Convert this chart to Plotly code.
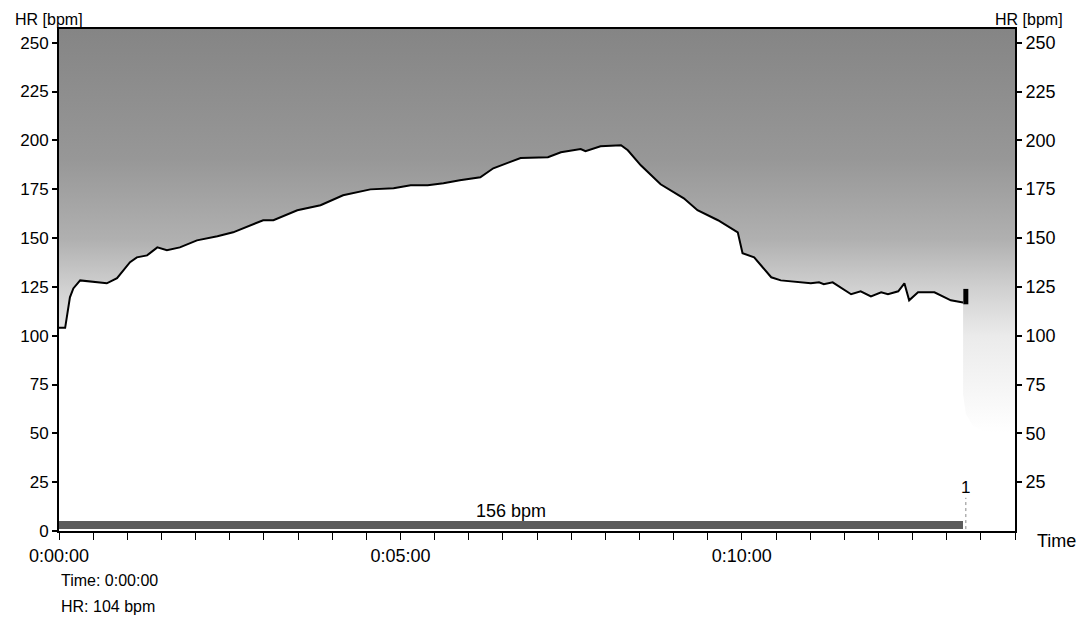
import plotly.graph_objects as go

# ---- data (time in minutes, heart rate in bpm) ----
time_min = [0.00, 0.09, 0.16, 0.21, 0.31, 0.60, 0.70, 0.85, 1.04, 1.14, 1.29, 1.44, 1.58, 1.77,
            2.02, 2.32, 2.55, 2.99, 3.14, 3.49, 3.83, 4.16, 4.56, 4.90, 5.15, 5.40, 5.63, 5.87,
            6.17, 6.36, 6.76, 7.16, 7.35, 7.64, 7.71, 7.93, 8.23, 8.33, 8.52, 8.81, 9.15, 9.35,
            9.65, 9.94, 10.01, 10.18, 10.43, 10.57, 11.01, 11.13, 11.20, 11.33, 11.60, 11.74,
            11.89, 12.04, 12.14, 12.29, 12.38, 12.45, 12.58, 12.82, 13.06, 13.24]
hr_bpm = [104, 104, 119.6, 124.2, 128.3, 127.3, 126.8, 129.4, 137.6, 140.1, 141.1, 145.2, 143.7, 145.2,
          148.8, 150.9, 152.9, 159.1, 159.1, 164.2, 166.8, 171.9, 174.9, 175.5, 177.0, 177.0, 178.0, 179.6,
          181.1, 185.7, 190.9, 191.4, 193.9, 195.5, 194.4, 197.0, 197.5, 194.9, 187.2, 177.5, 170.3, 164.2,
          159.1, 152.9, 142.2, 140.1, 129.9, 128.3, 126.8, 127.3, 126.3, 127.3, 121.2, 122.7,
          120.1, 122.2, 121.2, 122.7, 126.8, 118.1, 122.2, 122.2, 118.1, 117.0]

# recovery envelope after the end of the recording
tail_time = [13.24, 13.24, 13.28, 13.38, 13.55, 14.0]
tail_hr = [117.0, 70, 60, 54, 51, 50]

hr_axis_max = 257
time_axis_max = 14

zone_start = 0.0
zone_end = 13.24
zone_label = "156 bpm"

lap_time = 13.28
lap_hr = 120
lap_label = "1"

cursor_time = "0:00:00"
cursor_hr = 104

hr_ticks = list(range(0, 251, 25))
hr_ticks_right = list(range(25, 251, 25))
time_ticks = [i * 0.5 for i in range(0, 29)]
time_labels = {0: "0:00:00", 5: "0:05:00", 10: "0:10:00"}
time_ticktext = [time_labels.get(int(t), "") if float(t).is_integer() else "" for t in time_ticks]

FONT = "Liberation Sans, Arial, Helvetica, sans-serif"

lower_x = time_min + tail_time[1:]
lower_y = hr_bpm + tail_hr[1:]

fig = go.Figure()

# lower boundary of the shaded area
fig.add_trace(go.Scatter(x=lower_x, y=lower_y, mode="lines",
                         line=dict(width=0, color="rgba(0,0,0,0)"),
                         showlegend=False, hoverinfo="skip"))
# shaded area up to the top of the chart
fig.add_trace(go.Scatter(x=[0, time_axis_max], y=[hr_axis_max, hr_axis_max], mode="lines",
                         line=dict(width=0, color="rgba(0,0,0,0)"),
                         fill="tonexty",
                         fillgradient=dict(type="vertical",
                                           start=50, stop=hr_axis_max,
                                           colorscale=[[0.0, "#ffffff"],
                                                       [0.24, "#ebebeb"],
                                                       [0.36, "#d0d0d0"],
                                                       [0.48, "#b0b0b0"],
                                                       [0.68, "#979797"],
                                                       [1.0, "#858585"]]),
                         showlegend=False, hoverinfo="skip"))
# heart rate curve
fig.add_trace(go.Scatter(x=time_min, y=hr_bpm, mode="lines",
                         line=dict(color="black", width=2),
                         showlegend=False))
# zone bar
fig.add_trace(go.Bar(orientation="h", y=[2.9], x=[zone_end - zone_start], base=[zone_start],
                     width=[4.1], marker=dict(color="#5c5c5c", line=dict(width=0)),
                     showlegend=False, hoverinfo="skip"))
# lap marker
fig.add_trace(go.Scatter(x=[lap_time], y=[lap_hr], mode="markers",
                         marker=dict(symbol="line-ns-open", size=11, color="black",
                                     line=dict(color="black", width=5)),
                         showlegend=False))
fig.add_trace(go.Scatter(x=[lap_time, lap_time], y=[1, 17], mode="lines",
                         line=dict(color="#888888", width=1, dash="dot"),
                         showlegend=False, hoverinfo="skip"))
# invisible trace for the right axis
fig.add_trace(go.Scatter(x=[0], y=[0], yaxis="y2", mode="markers",
                         marker=dict(opacity=0), showlegend=False, hoverinfo="skip"))

# the page body adds an 8 px offset, so the figure is 8 px smaller and margins shifted
fig.update_layout(
    width=1080, height=611,
    margin=dict(l=51, r=73, t=21, b=88),
    paper_bgcolor="white", plot_bgcolor="white",
    font=dict(family=FONT, size=17, color="black"),
    bargap=0,
    xaxis=dict(range=[0, time_axis_max], showgrid=False, zeroline=False,
               showline=True, linecolor="black", linewidth=2, mirror=True,
               tickmode="array", tickvals=time_ticks, ticktext=time_ticktext,
               ticks="outside", ticklen=7, tickwidth=1, tickcolor="black",
               tickfont=dict(size=18)),
    yaxis=dict(range=[0, hr_axis_max], showgrid=False, zeroline=False,
               showline=True, linecolor="black", linewidth=2,
               tickmode="array", tickvals=hr_ticks,
               ticks="outside", ticklen=5, tickwidth=2, tickcolor="black",
               tickfont=dict(size=17)),
    yaxis2=dict(range=[0, hr_axis_max], overlaying="y", side="right",
                showgrid=False, zeroline=False,
                showline=True, linecolor="black", linewidth=2,
                tickmode="array", tickvals=hr_ticks_right,
                ticks="outside", ticklen=5, tickwidth=2, tickcolor="black",
                tickfont=dict(size=18)),
)

annotations = [
    dict(text="HR [bpm]", xref="paper", yref="paper", x=0, y=1, xanchor="center",
         yanchor="bottom", xshift=-10, yshift=-1, showarrow=False, font=dict(size=16)),
    dict(text="HR [bpm]", xref="paper", yref="paper", x=1, y=1, xanchor="center",
         yanchor="bottom", xshift=14, yshift=-1, showarrow=False, font=dict(size=16)),
    dict(text="Time", xref="paper", yref="y", x=1, y=0, xanchor="left",
         yanchor="top", xshift=20, yshift=2, showarrow=False, font=dict(size=18)),
    dict(text=zone_label, xref="x", yref="y", x=(zone_start + zone_end) / 2, y=5,
         xanchor="center", yanchor="bottom", yshift=-2, showarrow=False, font=dict(size=18)),
    dict(text=lap_label, xref="x", yref="y", x=lap_time, y=22.5,
         xanchor="center", yanchor="middle", showarrow=False, font=dict(size=17)),
    dict(text=f"Time: {cursor_time}", xref="paper", yref="paper", x=0, y=0,
         xanchor="left", yanchor="middle", yshift=-49, showarrow=False, font=dict(size=16)),
    dict(text=f"HR: {cursor_hr} bpm", xref="paper", yref="paper", x=0, y=0,
         xanchor="left", yanchor="middle", yshift=-75, showarrow=False, font=dict(size=16)),
]
fig.update_layout(annotations=annotations)

fig.write_html("out.html")
